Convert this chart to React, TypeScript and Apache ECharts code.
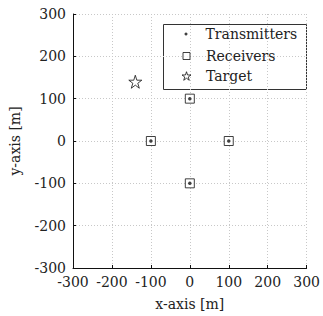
import React, { useEffect, useRef } from "react";
import * as echarts from "echarts";

const transmitters: [number, number][] = [[0, 100], [-100, 0], [100, 0], [0, -100]];
const receivers: [number, number][] = [[0, 100], [-100, 0], [100, 0], [0, -100]];
const target: [number, number][] = [[-140, 140]];
const seriesNames = ["Transmitters", "Receivers", "Target"];
const axisMin = -300;
const axisMax = 300;
const tickStep = 100;

const STAR = "path://M50,0 L61.2,34.5 L97.6,34.5 L68.2,55.9 L79.4,90.5 L50,69.1 L20.6,90.5 L31.8,55.9 L2.4,34.5 L38.8,34.5 Z";
const FONT = "DejaVu Serif";
const FS = 14;

export default function App() {
  const ref = useRef<HTMLDivElement>(null);
  useEffect(() => {
    const chart = echarts.init(ref.current!, undefined, { renderer: "svg" });
    const lbl = { color: "#222", fontFamily: FONT, fontSize: FS };
    const axisCommon = {
      min: axisMin,
      max: axisMax,
      interval: tickStep,
      axisLine: { show: true, onZero: false, lineStyle: { color: "#111", width: 1 } },
      axisTick: { show: true, inside: true, length: 3, lineStyle: { color: "#111" } },
      splitLine: { show: true, lineStyle: { color: "#c8c8c8", type: [1, 2], width: 1 } },
      nameTextStyle: { ...lbl },
      nameLocation: "middle" as const,
    };
    const hollow = { color: "#fff", borderColor: "#111", borderWidth: 1 };
    const legendBase = {
      orient: "vertical" as const,
      itemGap: 0,
      padding: 0,
      selectedMode: false,
    };
    chart.setOption({
      animation: false,
      textStyle: { fontFamily: FONT, fontSize: FS },
      grid: { left: 69, right: 12, top: 14, bottom: 42 },
      xAxis: { ...axisCommon, type: "value", name: "x-axis [m]", nameGap: 29,
        axisLabel: { ...lbl, margin: 7 } },
      yAxis: { ...axisCommon, type: "value", name: "y-axis [m]", nameGap: 51,
        axisLabel: { ...lbl, margin: 7 } },
      legend: [
        { ...legendBase, left: 184.5, top: 27, itemWidth: 3, itemHeight: 3,
          data: [{ name: seriesNames[0], icon: "circle", itemStyle: { color: "#111", borderWidth: 0 } }],
          textStyle: { ...lbl, padding: [0, 0, 0, 13] } },
        { ...legendBase, left: 182.5, top: 49, itemWidth: 7, itemHeight: 7,
          data: [{ name: seriesNames[1], icon: "rect", itemStyle: hollow }],
          textStyle: { ...lbl, padding: [0, 0, 0, 11] } },
        { ...legendBase, left: 181.5, top: 69, itemWidth: 9, itemHeight: 9,
          data: [{ name: seriesNames[2], icon: STAR, itemStyle: hollow }],
          textStyle: { ...lbl, padding: [0, 0, 0, 10] } },
      ],
      graphic: [
        { type: "rect", left: 163, top: 24, z: 0,
          shape: { width: 143, height: 65 },
          style: { fill: "#fff", stroke: "#333", lineWidth: 1 } },
      ],
      series: [
        { name: seriesNames[1], type: "scatter", data: receivers, symbol: "rect", symbolSize: 9,
          itemStyle: hollow, z: 3 },
        { name: seriesNames[0], type: "scatter", data: transmitters, symbol: "circle", symbolSize: 3.5,
          itemStyle: { color: "#111" }, z: 4 },
        { name: seriesNames[2], type: "scatter", data: target, symbol: STAR, symbolSize: 13,
          itemStyle: hollow, z: 3 },
      ],
    });
    return () => chart.dispose();
  }, []);
  return <div ref={ref} style={{ width: 323, height: 316, position: "absolute", left: 0, top: 0, background: "#fff" }} />;
}
